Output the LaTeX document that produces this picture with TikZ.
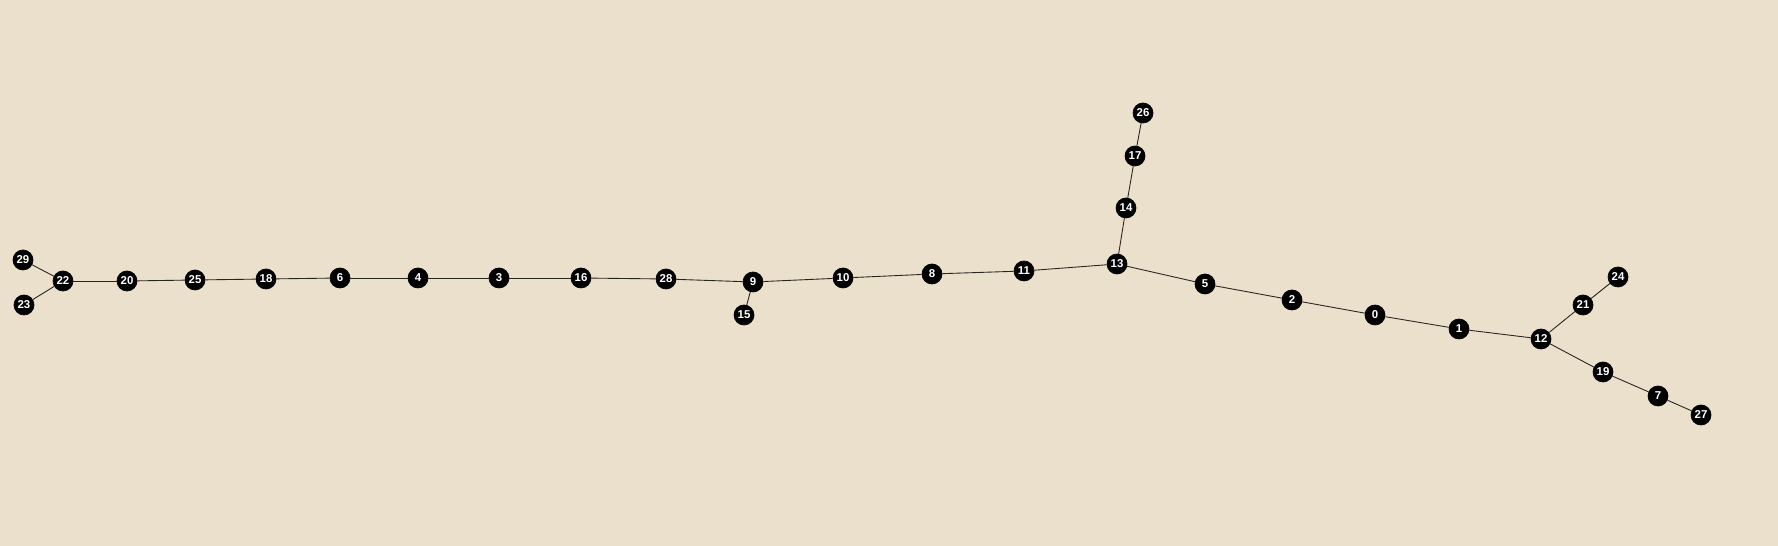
\documentclass[tikz,border=0pt]{standalone}
\usepackage{fontspec}
\setmainfont{Liberation Sans}
\usepackage{xcolor}
\usepackage{tikz}
\definecolor{paper}{RGB}{234,224,204}
\definecolor{edgegray}{RGB}{40,36,30}

\tikzset{
  vertex/.style={circle, fill=black, draw=black, inner sep=0pt, minimum size=0.4cm,
                 font=\fontsize{6.5}{7}\selectfont\bfseries, text=white},
  link/.style={draw=edgegray, line width=0.5pt}
}

\begin{document}
\begin{tikzpicture}[x=0.02cm, y=-0.02cm]
  %% background / page size
  \fill[paper] (0,0) rectangle (1778,546);
  \useasboundingbox (0,0) rectangle (1778,546);

  %% vertices
  \foreach \i/\x/\y in {29/23/260, 22/63/281, 23/24/305, 20/127/281, 25/195/280,
                        18/266/279, 6/340/278, 4/418/278, 3/499/278, 16/581/278,
                        28/666/279, 9/753/282, 15/744/315, 10/843/278, 8/932/274,
                        11/1024/271, 13/1117/264, 14/1126/208, 17/1135/156, 26/1143/113,
                        5/1205/284, 2/1292/300, 0/1375/315, 1/1459/329, 12/1541/339,
                        21/1583/305, 24/1618/277, 19/1603/372, 7/1658/396, 27/1701/415}{
    \node[vertex] (n\i) at (\x,\y) {\i};
  }

  %% edges
  \foreach \a/\b in {29/22, 23/22, 22/20, 20/25, 25/18, 18/6, 6/4, 4/3, 3/16, 16/28,
                     28/9, 9/15, 9/10, 10/8, 8/11, 11/13, 13/14, 14/17, 17/26, 13/5,
                     5/2, 2/0, 0/1, 1/12, 12/21, 21/24, 12/19, 19/7, 7/27}{
    \draw[link] (n\a) -- (n\b);
  }
\end{tikzpicture}
\end{document}
